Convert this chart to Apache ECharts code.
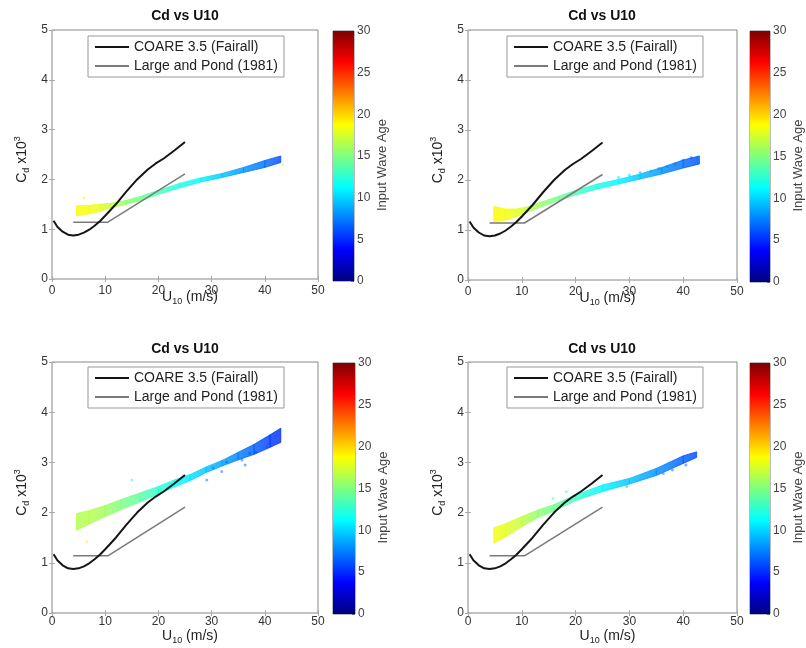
<!DOCTYPE html>
<html><head><meta charset="utf-8">
<script src="https://cdn.jsdelivr.net/npm/echarts@6/dist/echarts.min.js"></script>
<style>html,body{margin:0;padding:0;background:#fff}#c{width:806px;height:648px}</style>
</head><body><div id="c"></div>
<script>
// ---------------- data ----------------
const titleText = 'Cd vs U10';
const legendNames = ['COARE 3.5 (Fairall)', 'Large and Pond (1981)'];
const colorbarLabel = 'Input Wave Age';

// COARE 3.5 curve
const coareU  = [0.3, 1, 2, 3, 4, 5, 6, 7, 8, 9, 10, 12, 14, 16, 18, 19.5, 21, 23, 25];
const coareCd = [1.17, 1.05, 0.95, 0.89, 0.875, 0.89, 0.93, 0.99, 1.07, 1.16, 1.27, 1.50, 1.76, 2.00, 2.20, 2.32, 2.42, 2.58, 2.75];
// Large and Pond (1981)
const lpU  = [4, 10.5, 25];
const lpCd = [1.14, 1.14, 2.11];

// Panel 1 (top-left) scatter band
const tlU   = [4.6, 7, 9, 11, 14, 17, 20, 24, 28, 32, 36, 40, 43];
const tlLo  = [1.27, 1.31, 1.36, 1.43, 1.50, 1.58, 1.70, 1.83, 1.95, 2.04, 2.14, 2.24, 2.34];
const tlHi  = [1.47, 1.48, 1.50, 1.52, 1.58, 1.67, 1.78, 1.92, 2.03, 2.12, 2.24, 2.38, 2.47];
const tlAge = [18.5, 18.5, 18, 17, 15.5, 14.5, 13.5, 12, 11, 9.5, 8, 7, 6];
const tlOutU = [6, 43.3];
const tlOutCd = [1.63, 2.30];
const tlOutAge = [19, 19];

// Panel 2 (top-right)
const trU   = [4.8, 7, 9, 11, 14, 17, 20, 24, 28, 32, 36, 40, 43];
const trLo  = [1.17, 1.20, 1.27, 1.35, 1.48, 1.60, 1.70, 1.82, 1.92, 2.02, 2.12, 2.24, 2.32];
const trHi  = [1.47, 1.42, 1.42, 1.46, 1.57, 1.68, 1.79, 1.92, 2.01, 2.12, 2.25, 2.40, 2.48];
const trAge = [19, 18.5, 18, 17, 15.5, 14.5, 13.5, 12, 11, 9.5, 8, 7, 6];
const trOutU  = [28, 30, 32, 34, 35.5, 37, 38.5, 40, 41.5];
const trOutCd = [2.05, 2.10, 2.15, 2.18, 2.23, 2.27, 2.32, 2.40, 2.45];
const trOutAge = [10, 9.5, 9, 8.5, 8, 7.5, 7, 7, 6.5];

// Panel 3 (bottom-left)
const blU   = [4.6, 7, 10, 13, 16.5, 20, 23, 26, 29, 32, 35, 38, 41, 43];
const blLo  = [1.65, 1.77, 1.92, 2.06, 2.21, 2.37, 2.51, 2.64, 2.80, 2.93, 3.05, 3.16, 3.30, 3.40];
const blHi  = [1.98, 2.04, 2.14, 2.26, 2.39, 2.52, 2.65, 2.76, 2.91, 3.04, 3.20, 3.36, 3.55, 3.68];
const blAge = [16.5, 16.5, 16, 15, 14, 12.5, 11.5, 10.5, 9.5, 8.5, 7.5, 6.5, 5.5, 5];
const blOutU   = [29.1, 30.3, 31.9, 32.8, 35.7, 36.3, 37.2, 38.3, 40.4, 41, 15, 6.5];
const blOutCd  = [2.65, 2.89, 2.82, 3.01, 3.05, 2.95, 3.18, 3.20, 3.31, 3.38, 2.65, 1.42];
const blOutAge = [7, 7, 7, 6.5, 6.5, 6.5, 6, 6, 6, 6, 12, 19];

// Panel 4 (bottom-right)
const brU   = [4.8, 7, 10, 13, 16, 20, 25, 30, 35, 40, 42.5];
const brLo  = [1.39, 1.52, 1.72, 1.90, 2.03, 2.24, 2.42, 2.57, 2.74, 2.98, 3.10];
const brHi  = [1.70, 1.78, 1.92, 2.05, 2.16, 2.35, 2.55, 2.68, 2.88, 3.13, 3.21];
const brAge = [18.5, 18, 17, 15.5, 14.5, 13, 11, 9.5, 8, 6.5, 6];
const brOutU   = [29.5, 36.3, 38, 40.5, 15.8, 18.3];
const brOutCd  = [2.52, 2.78, 2.85, 2.95, 2.28, 2.42];
const brOutAge = [9, 7.5, 7, 6.5, 13, 12.5];

// ---------------- styles / layout ----------------
const FONT = '"Liberation Sans", Arial, sans-serif';
const jetStops = [[0, '#00007f'], [0.125, '#0000ff'], [0.375, '#00ffff'], [0.625, '#ffff00'], [0.875, '#ff0000'], [1, '#7f0000']];
function hex2rgb(h) { return [parseInt(h.slice(1,3),16), parseInt(h.slice(3,5),16), parseInt(h.slice(5,7),16)]; }
function jet(age) {
  let t = Math.max(0, Math.min(1, age / 30));
  for (let k = 0; k < jetStops.length - 1; k++) {
    const a = jetStops[k], b = jetStops[k+1];
    if (t <= b[0]) {
      const f = (t - a[0]) / (b[0] - a[0]);
      const ca = hex2rgb(a[1]), cb = hex2rgb(b[1]);
      return 'rgb(' + ca.map((v, j) => Math.round(v + (cb[j] - v) * f)).join(',') + ')';
    }
  }
  return jetStops[jetStops.length-1][1];
}

const panels = [
  { g: {left: 52, top: 30, width: 266, height: 249}, cb: {left: 333, top: 31, width: 21, height: 250},
    lg: {left: 88, top: 36}, tt: {x: 185, y: 9}, xm: 6, xg: 9,
    band: [tlU, tlLo, tlHi, tlAge], out: [tlOutU, tlOutCd, tlOutAge] },
  { g: {left: 468, top: 30, width: 269, height: 250}, cb: {left: 750, top: 31, width: 21, height: 251},
    lg: {left: 507, top: 36}, tt: {x: 602, y: 9}, xm: 6, xg: 9,
    band: [trU, trLo, trHi, trAge], out: [trOutU, trOutCd, trOutAge] },
  { g: {left: 52, top: 362, width: 266, height: 251}, cb: {left: 333, top: 363, width: 22, height: 251},
    lg: {left: 88, top: 367}, tt: {x: 185, y: 342}, xm: 3, xg: 14,
    band: [blU, blLo, blHi, blAge], out: [blOutU, blOutCd, blOutAge] },
  { g: {left: 468, top: 362, width: 269, height: 251}, cb: {left: 750, top: 363, width: 22, height: 251},
    lg: {left: 507, top: 367}, tt: {x: 602, y: 342}, xm: 3, xg: 14,
    band: [brU, brLo, brHi, brAge], out: [brOutU, brOutCd, brOutAge] }
];

const richName = {
  m: {fontSize: 14, lineHeight: 18, color: '#222', fontFamily: FONT},
  s: {fontSize: 9, lineHeight: 9, verticalAlign: 'bottom', color: '#222', fontFamily: FONT},
  p: {fontSize: 9, lineHeight: 9, verticalAlign: 'top', color: '#222', fontFamily: FONT}
};

const grid = [], xAxis = [], yAxis = [], series = [], title = [], legend = [];
const cbGradient = {type: 'linear', x: 0, y: 1, x2: 0, y2: 0,
  colorStops: jetStops.map(s => ({offset: s[0], color: s[1]}))};

panels.forEach((P, i) => {
  const gi = grid.length;
  grid.push(Object.assign({show: true, borderColor: '#888', borderWidth: 1, backgroundColor: 'transparent'}, P.g));
  const cgi = grid.length;
  grid.push(Object.assign({show: true, borderColor: '#777', borderWidth: 1, backgroundColor: 'transparent'}, P.cb));

  const xi = xAxis.length;
  xAxis.push({type: 'value', gridIndex: gi, min: 0, max: 50, interval: 10, position: 'bottom',
    axisLine: {show: false}, splitLine: {show: false},
    axisTick: {show: true, inside: true, length: 3, lineStyle: {color: '#aaa'}},
    axisLabel: {fontSize: 12, color: '#333', margin: P.xm, fontFamily: FONT},
    name: '{m|U}{s|10}{m| (m/s)}', nameLocation: 'middle', nameGap: P.xg, nameMoveOverlap: false,
    nameTextStyle: {rich: richName, padding: [0, 0, 0, 10]}});
  xAxis.push({type: 'value', gridIndex: gi, min: 0, max: 50, interval: 10, position: 'top',
    axisLine: {show: false}, splitLine: {show: false}, axisLabel: {show: false},
    axisTick: {show: true, inside: true, length: 3, lineStyle: {color: '#aaa'}}});
  const yi = yAxis.length;
  yAxis.push({type: 'value', gridIndex: gi, min: 0, max: 5, interval: 1, position: 'left',
    axisLine: {show: false}, splitLine: {show: false},
    axisTick: {show: true, inside: true, length: 3, lineStyle: {color: '#aaa'}},
    axisLabel: {fontSize: 12, color: '#333', margin: 4, fontFamily: FONT},
    name: '{m|C}{s|d}{m| x10}{p|3}', nameLocation: 'middle', nameRotate: 90, nameGap: 21, nameMoveOverlap: false,
    nameTextStyle: {rich: richName, padding: [0, 10, 0, 0]}});
  yAxis.push({type: 'value', gridIndex: gi, min: 0, max: 5, interval: 1, position: 'right',
    axisLine: {show: false}, splitLine: {show: false}, axisLabel: {show: false},
    axisTick: {show: true, inside: true, length: 3, lineStyle: {color: '#aaa'}}});

  // colorbar axes
  const cxi = xAxis.length;
  xAxis.push({type: 'category', gridIndex: cgi, data: ['c'], show: false});
  const cyi = yAxis.length;
  yAxis.push({type: 'value', gridIndex: cgi, min: 0, max: 30, interval: 5, position: 'right',
    axisLine: {show: false}, splitLine: {show: false},
    axisTick: {show: true, inside: true, length: 3, lineStyle: {color: '#666'}},
    axisLabel: {fontSize: 12, color: '#444', margin: 3, fontFamily: FONT},
    name: colorbarLabel, nameLocation: 'middle', nameRotate: 90, nameGap: 22, nameMoveOverlap: false,
    nameTextStyle: {fontSize: 13, color: '#444', fontFamily: FONT, padding: [0, 18, 0, 0]}});
  series.push({type: 'bar', xAxisIndex: cxi, yAxisIndex: cyi, data: [30], barWidth: '100%',
    itemStyle: {color: cbGradient}, silent: true, animation: false});

  // scatter band
  const [bu, blo, bhi, bage] = P.band;
  const rows = bu.map((u, k) => [u, blo[k], bhi[k], bage[k]]);
  series.push({type: 'custom', xAxisIndex: xi, yAxisIndex: yi, data: rows, z: 2,
    encode: {x: 0, y: [1, 2]}, animation: false, silent: true,
    renderItem: function (params, api) {
      const k = params.dataIndex;
      if (k >= rows.length - 1) return null;
      const a = rows[k], b = rows[k + 1];
      const pts = [api.coord([a[0], a[1]]), api.coord([b[0], b[1]]), api.coord([b[0], b[2]]), api.coord([a[0], a[2]])];
      const grad = {type: 'linear', x: 0, y: 0, x2: 1, y2: 0,
        colorStops: [{offset: 0, color: jet(a[3])}, {offset: 1, color: jet(b[3])}]};
      return {type: 'polygon', shape: {points: pts}, style: {fill: grad, stroke: grad, lineWidth: 1, opacity: 0.82}};
    }});
  // outlier points
  const [ou, ocd, oage] = P.out;
  series.push({type: 'scatter', xAxisIndex: xi, yAxisIndex: yi, z: 2, symbolSize: 3, animation: false, silent: true,
    data: ou.map((u, k) => [u, ocd[k], oage[k]]),
    itemStyle: {color: p => jet(p.value[2]), opacity: 0.5}});

  // reference lines
  series.push({type: 'line', name: legendNames[0], xAxisIndex: xi, yAxisIndex: yi, z: 5,
    data: coareU.map((u, k) => [u, coareCd[k]]), symbol: 'none', showSymbol: false, animation: false,
    lineStyle: {color: '#151515', width: 2}, itemStyle: {color: '#151515'}});
  series.push({type: 'line', name: legendNames[1], xAxisIndex: xi, yAxisIndex: yi, z: 4,
    data: lpU.map((u, k) => [u, lpCd[k]]), symbol: 'none', showSymbol: false, animation: false,
    lineStyle: {color: '#7a7a7a', width: 1.5}, itemStyle: {color: '#7a7a7a'}});

  title.push({text: titleText, left: P.tt.x, top: P.tt.y, textAlign: 'center', padding: 0,
    textStyle: {fontSize: 14, fontWeight: 'bold', color: '#111', fontFamily: FONT}});
  legend.push({data: legendNames.map(n => ({name: n, icon: 'rect'})), orient: 'vertical',
    left: P.lg.left, top: P.lg.top,
    itemWidth: 34, itemHeight: 2, itemGap: 3, padding: [3, 6, 3, 7],
    borderColor: '#999', borderWidth: 1, backgroundColor: '#fff', selectedMode: false,
    textStyle: {fontSize: 14, lineHeight: 16, color: '#222', fontFamily: FONT}});
});

const chart = echarts.init(document.getElementById('c'), null, {renderer: 'canvas'});
chart.setOption({backgroundColor: '#fff', animation: false, textStyle: {fontFamily: FONT},
  grid, xAxis, yAxis, series, title, legend});
</script></body></html>
